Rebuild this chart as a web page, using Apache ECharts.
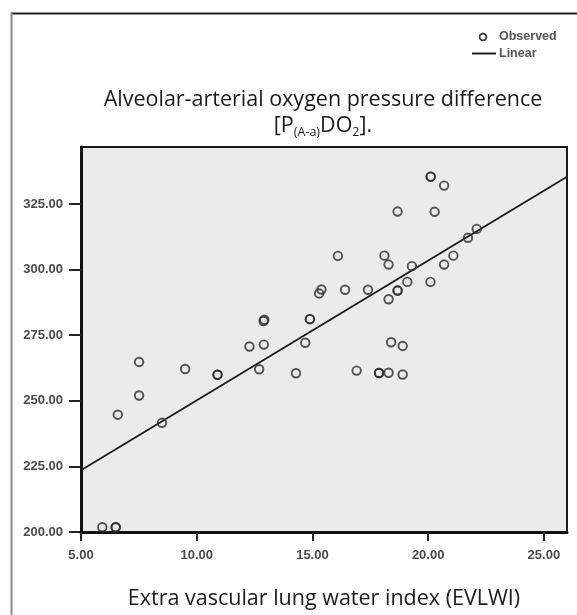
<!DOCTYPE html>
<html>
<head>
<meta charset="utf-8">
<script src="https://cdn.jsdelivr.net/npm/echarts@6/dist/echarts.min.js"></script>
<style>
html,body{margin:0;padding:0;background:#fff;}
#c{width:577px;height:615px;}
</style>
</head>
<body>
<div id="c"></div>
<script>
// Observed values: EVLWI (x) and P(A-a)DO2 (y)
const evlwi = [5.92, 6.50, 6.50, 6.59, 7.51, 7.51, 8.50, 9.50, 10.90, 10.90, 12.28, 12.90, 12.70, 12.89, 12.92,
  14.29, 14.69, 14.89, 14.89, 15.29, 15.39, 16.10, 16.41, 16.91, 17.40, 17.88, 17.88, 18.11, 18.29, 18.29, 18.29,
  18.40, 18.68, 18.68, 18.68, 18.90, 18.90, 19.10, 19.30, 20.10, 20.11, 20.11, 20.28, 20.69, 20.69, 21.09, 21.72, 22.10];
const pdo2 = [201.8, 201.8, 201.8, 244.7, 264.8, 252.0, 241.6, 262.1, 259.9, 259.9, 270.7, 271.4, 262.0, 280.4, 280.9,
  260.5, 272.1, 281.1, 281.1, 290.9, 292.4, 305.2, 292.3, 261.5, 292.3, 260.6, 260.6, 305.3, 301.9, 288.7, 260.7,
  272.3, 292.0, 292.0, 322.1, 270.9, 260.0, 295.3, 301.3, 295.3, 335.4, 335.4, 322.0, 332.0, 301.9, 305.3, 312.1, 315.5];
// Linear fit line (endpoints at axis limits)
const fitX = [5, 26];
const fitY = [223.5, 335.4];
const xTicks = [5, 10, 15, 20, 25];
const yTicks = [200, 225, 250, 275, 300, 325];

const observed = evlwi.map((x, i) => [x, pdo2[i]]);
const linear = fitX.map((x, i) => [x, fitY[i]]);

const chart = echarts.init(document.getElementById('c'), null, {renderer: 'canvas'});
const tickFont = {fontFamily: 'Liberation Sans', fontSize: 13, fontWeight: 'bold', color: '#4a4a4a'};
chart.setOption({
  animation: false,
  backgroundColor: '#fff',
  grid: {left: 81, right: 10, top: 147, bottom: 74, show: true, backgroundColor: '#ebebeb', borderColor: '#1a1a1a', borderWidth: 2, containLabel: false},
  xAxis: {
    type: 'value', min: 5, max: 26,
    name: 'Extra vascular lung water index (EVLWI)',
    nameLocation: 'middle', nameGap: 56,
    nameTextStyle: {fontFamily: 'Open Sans', fontSize: 21.5, color: '#1a1a1a'},
    axisLine: {show: true, lineStyle: {color: '#111', width: 3}},
    axisTick: {show: true, length: 9, lineStyle: {color: '#222', width: 2}, customValues: xTicks},
    axisLabel: Object.assign({margin: 17, customValues: xTicks, formatter: v => v.toFixed(2)}, tickFont),
    splitLine: {show: false}
  },
  yAxis: {
    type: 'value', min: 200, max: 346.7,
    axisLine: {show: true, lineStyle: {color: '#111', width: 3}},
    axisTick: {show: true, length: 12, lineStyle: {color: '#222', width: 2}, customValues: yTicks},
    axisLabel: Object.assign({margin: 18, customValues: yTicks, formatter: v => v.toFixed(2)}, tickFont),
    splitLine: {show: false}
  },
  series: [
    {
      name: 'Observed', type: 'scatter', data: observed,
      symbol: 'circle', symbolSize: 8.5,
      itemStyle: {color: 'rgba(0,0,0,0)', borderColor: '#2a2a2a', borderWidth: 1.9},
      z: 3
    },
    {
      name: 'Linear', type: 'line', data: linear, symbol: 'none',
      lineStyle: {color: '#1a1a1a', width: 1.8}, z: 2
    }
  ],
  graphic: [
    {type: 'line', shape: {x1: 11, y1: 13.5, x2: 577, y2: 13.5}, style: {stroke: '#222', lineWidth: 2}},
    {type: 'line', shape: {x1: 11.5, y1: 13, x2: 11.5, y2: 615}, style: {stroke: '#8a8a8a', lineWidth: 2}},
    {type: 'circle', shape: {cx: 483, cy: 37, r: 3.4}, style: {fill: 'none', stroke: '#333', lineWidth: 1.8}},
    {type: 'text', x: 499, y: 37, style: {text: 'Observed', fontFamily: 'Liberation Sans', fontSize: 12.5, fontWeight: 'bold', fill: '#555', verticalAlign: 'middle'}},
    {type: 'line', shape: {x1: 472, y1: 53.5, x2: 496, y2: 53.5}, style: {stroke: '#222', lineWidth: 2}},
    {type: 'text', x: 499, y: 54, style: {text: 'Linear', fontFamily: 'Liberation Sans', fontSize: 12.5, fontWeight: 'bold', fill: '#555', verticalAlign: 'middle'}},
    {type: 'text', x: 323, y: 100, style: {text: 'Alveolar-arterial oxygen pressure difference', fontFamily: 'Open Sans', fontSize: 21.5, fill: '#1a1a1a', align: 'center', verticalAlign: 'middle'}},
    {type: 'text', x: 323, y: 126, style: {
      text: '{b|[P}{s|(A-a)}{b|DO}{s|2}{b|].}',
      align: 'center', verticalAlign: 'middle',
      rich: {
        b: {fontFamily: 'Open Sans', fontSize: 21.5, fill: '#1a1a1a', lineHeight: 26, verticalAlign: 'middle'},
        s: {fontFamily: 'Open Sans', fontSize: 12.5, fill: '#1a1a1a', lineHeight: 26, verticalAlign: 'bottom'}
      }
    }}
  ]
});
</script>
</body>
</html>
